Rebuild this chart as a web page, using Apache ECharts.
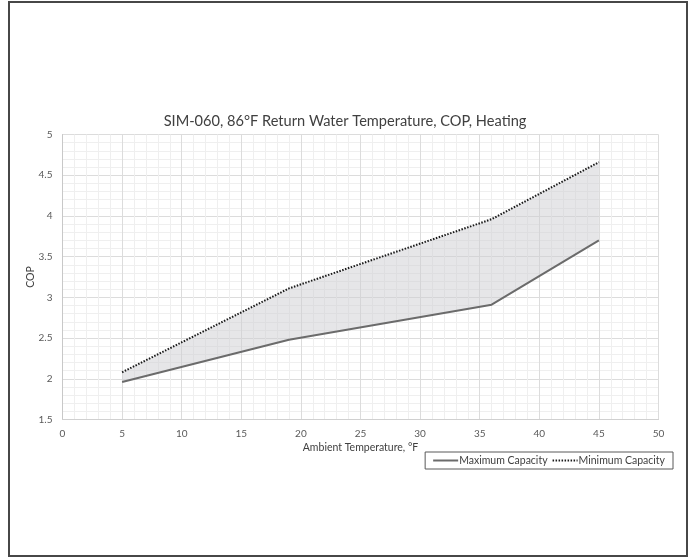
<!DOCTYPE html>
<html>
<head>
<meta charset="utf-8">
<script src="https://cdn.jsdelivr.net/npm/echarts@6/dist/echarts.min.js"></script>
<style>
  html, body { margin: 0; padding: 0; background: #fff; }
  #chart { width: 690px; height: 558px; }
</style>
</head>
<body>
<div id="chart"></div>
<script>
// Ambient temperature (°F) and COP at each operating point
const ambientTemps = [5, 19, 36, 45];
const copMaxCapacity = [1.96, 2.48, 2.91, 3.70];
const copMinCapacity = [2.08, 3.11, 3.96, 4.66];

const titleText = 'SIM-060, 86°F Return Water Temperature, COP, Heating';
const xName = 'Ambient Temperature, °F';
const yName = 'COP';
const maxName = 'Maximum Capacity';
const minName = 'Minimum Capacity';

const FONT = 'Lato, "Liberation Sans", sans-serif';

const pairs = (ys) => ambientTemps.map((x, i) => [x, ys[i]]);

// Shaded region between the two capacity curves, projected through the axes
function renderBand(params, api) {
  const upper = pairs(copMinCapacity).map((p) => api.coord(p));
  const lower = pairs(copMaxCapacity).map((p) => api.coord(p)).reverse();
  return {
    type: 'polygon',
    shape: { points: upper.concat(lower) },
    style: { fill: 'rgba(205,205,210,0.5)', stroke: 'none' },
    silent: true
  };
}

const chart = echarts.init(document.getElementById('chart'), null, { renderer: 'canvas' });
chart.setOption({
  animation: false,
  backgroundColor: '#ffffff',
  title: {
    text: titleText,
    left: 'center',
    top: 109,
    textStyle: { fontFamily: FONT, fontSize: 14.6, fontWeight: 'normal', color: '#404040' }
  },
  graphic: [{
    type: 'rect',
    shape: { x: 9, y: 2, width: 678, height: 554 },
    style: { fill: 'none', stroke: '#474747', lineWidth: 2 },
    silent: true
  }],
  legend: {
    right: 17,
    top: 452,
    itemWidth: 25,
    itemHeight: 8,
    itemGap: 4,
    padding: [3, 8, 3, 7],
    borderColor: '#595959',
    borderWidth: 1,
    data: [maxName, minName],
    itemStyle: { opacity: 0 },
    textStyle: { fontFamily: FONT, fontSize: 10.5, color: '#404040', padding: [0, 0, 0, -4] }
  },
  grid: { left: 62.5, right: 31.5, top: 134.5, bottom: 138.5, containLabel: false },
  xAxis: {
    type: 'value',
    min: 0, max: 50, interval: 5,
    name: xName,
    nameLocation: 'middle',
    nameGap: 23,
    nameMoveOverlap: false,
    nameTextStyle: { fontFamily: FONT, fontSize: 10.5, color: '#404040' },
    axisLine: { show: true, lineStyle: { color: '#d0d0d0', width: 1 } },
    axisTick: { show: false },
    axisLabel: { fontFamily: FONT, fontSize: 10, color: '#595959', margin: 9 },
    splitLine: { show: true, lineStyle: { color: '#dcdcdc', width: 1 } },
    minorTick: { show: false, splitNumber: 5 },
    minorSplitLine: { show: true, lineStyle: { color: '#efefef', width: 1 } }
  },
  yAxis: {
    type: 'value',
    min: 1.5, max: 5, interval: 0.5,
    name: yName,
    nameLocation: 'middle',
    nameGap: 26,
    nameMoveOverlap: false,
    nameTextStyle: { fontFamily: FONT, fontSize: 10.5, color: '#404040' },
    axisLine: { show: true, lineStyle: { color: '#c8c8c8', width: 1 } },
    axisTick: { show: false },
    axisLabel: { fontFamily: FONT, fontSize: 10, color: '#595959', margin: 10 },
    splitLine: { show: true, lineStyle: { color: '#dcdcdc', width: 1 } },
    minorTick: { show: false, splitNumber: 5 },
    minorSplitLine: { show: true, lineStyle: { color: '#efefef', width: 1 } }
  },
  series: [
    {
      name: 'band',
      type: 'custom',
      renderItem: renderBand,
      data: [[ambientTemps[0], copMaxCapacity[0]]],
      clip: true,
      silent: true,
      z: 1
    },
    {
      name: maxName,
      type: 'line',
      data: pairs(copMaxCapacity),
      symbol: 'none',
      lineStyle: { color: '#6b6b6b', width: 2 },
      itemStyle: { color: '#6b6b6b' },
      z: 3
    },
    {
      name: minName,
      type: 'line',
      data: pairs(copMinCapacity),
      symbol: 'none',
      lineStyle: { color: '#1a1a1a', width: 2, type: [1.5, 1.5] },
      itemStyle: { color: '#1a1a1a' },
      z: 3
    }
  ]
});
</script>
</body>
</html>
